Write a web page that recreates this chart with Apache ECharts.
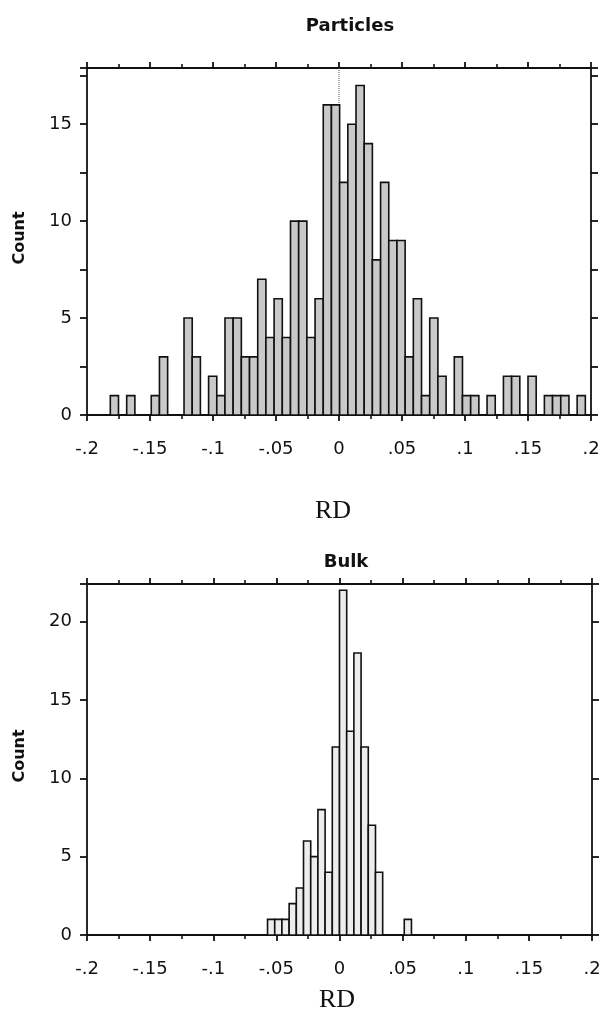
<!DOCTYPE html>
<html>
<head>
<meta charset="utf-8">
<script src="https://cdn.jsdelivr.net/npm/echarts@6/dist/echarts.min.js"></script>
<style>
html,body{margin:0;padding:0;background:#fff;}
#chart{width:604px;height:1021px;}
</style>
</head>
<body>
<div id="chart"></div>
<script>
// ---- Data ----
const chartTitles = ['Particles', 'Bulk'];
const xAxisName = 'RD';
const yAxisName = 'Count';

// Particles histogram: bin start, bin width, counts
const particleBinStart = -0.1815;
const particleBinWidth = 0.0065;
const particleCounts = [1,0,1,0,0,1,3,0,0,5, 3,0,2,1,5,5,3,3,7,4, 6,4,10,10,4,6,16,16,12,15,
                        17,14,8,12,9,9,3,6,1,5, 2,0,3,1,1,0,1,0,2,2, 0,2,0,1,1,1,0,1];

// Bulk histogram
const bulkBinStart = -0.057;
const bulkBinWidth = 0.0057;
const bulkCounts = [1,1,1,2,3,6,5,8,4,12, 22,13,18,12,7,4,0,0,0,1];

function toBins(start, width, counts) {
  return counts.map((c, i) => [start + i * width, start + (i + 1) * width, c]);
}

const chart = echarts.init(document.getElementById('chart'), null, {renderer: 'canvas'});

const tickFont = {fontFamily: 'DejaVu Sans', fontSize: 18, color: '#111'};

function xLabel(v) {
  if (Math.abs(v) < 1e-9) return '0';
  const s = parseFloat(v.toFixed(3)).toString();
  return s.replace('0.', '.');
}
function yLabelEvery(step) {
  return v => (Math.abs(v / step - Math.round(v / step)) < 1e-6) ? String(Math.round(v)) : '';
}

function xAxes(gridIndex) {
  const base = {
    type: 'value', gridIndex, min: -0.2, max: 0.2, interval: 0.05,
    axisLine: {show: true, onZero: false, lineStyle: {color: '#111', width: 1.8}},
    axisTick: {show: true, inside: false, length: 6, lineStyle: {color: '#111', width: 1.8}},
    minorTick: {show: true, splitNumber: 2, length: 4, lineStyle: {color: '#111', width: 1.6}},
    splitLine: {show: false}, minorSplitLine: {show: false}
  };
  return [
    Object.assign({}, base, {position: 'bottom',
      axisLabel: Object.assign({margin: 25, formatter: xLabel}, tickFont)}),
    Object.assign({}, base, {position: 'top', axisLabel: {show: false}})
  ];
}
function yAxes(gridIndex, max, interval, labelStep) {
  const base = {
    type: 'value', gridIndex, min: 0, max, interval,
    axisLine: {show: true, onZero: false, lineStyle: {color: '#111', width: 1.8}},
    axisTick: {show: true, inside: false, length: 7, lineStyle: {color: '#111', width: 1.8}},
    splitLine: {show: false}
  };
  return [
    Object.assign({}, base, {position: 'left',
      axisLabel: Object.assign({margin: 15, formatter: yLabelEvery(labelStep)}, tickFont)}),
    Object.assign({}, base, {position: 'right', axisLabel: {show: false}})
  ];
}

function binRenderer(fill) {
  return function (params, api) {
    const c = api.value(2);
    if (!c) return null;
    const p0 = api.coord([api.value(0), c]);
    const p1 = api.coord([api.value(1), 0]);
    return {
      type: 'rect',
      shape: {x: p0[0], y: p0[1], width: p1[0] - p0[0], height: p1[1] - p0[1]},
      style: {fill: fill, stroke: '#111', lineWidth: 1.6}
    };
  };
}

function label(text, x, y, font, rot) {
  return {type: 'text', x, y, rotation: rot || 0,
    style: {text, x: 0, y: 0, font, fill: '#111', align: 'center', verticalAlign: 'middle'}};
}

const option = {
  animation: false,
  backgroundColor: '#fff',
  grid: [
    {left: 87, right: 13, top: 68, height: 347},
    {left: 87, right: 12, top: 584, height: 351}
  ],
  xAxis: [...xAxes(0), ...xAxes(1)],
  yAxis: [...yAxes(0, 17.9, 2.5, 5), ...yAxes(1, 22.4, 5, 5)],
  series: [
    {
      type: 'line', xAxisIndex: 0, yAxisIndex: 0, z: 1,
      data: [[0, 0], [0, 17.9]], symbol: 'none',
      lineStyle: {color: '#555', width: 1, type: [1, 1]}, silent: true
    },
    {
      type: 'custom', xAxisIndex: 0, yAxisIndex: 0, z: 3,
      renderItem: binRenderer('#c9c9c9'),
      encode: {x: [0, 1], y: 2},
      data: toBins(particleBinStart, particleBinWidth, particleCounts)
    },
    {
      type: 'custom', xAxisIndex: 2, yAxisIndex: 2, z: 3,
      renderItem: binRenderer('#ededed'),
      encode: {x: [0, 1], y: 2},
      data: toBins(bulkBinStart, bulkBinWidth, bulkCounts)
    }
  ],
  graphic: [
    label(chartTitles[0], 350, 26, 'bold 18px "DejaVu Sans"'),
    label(chartTitles[1], 346, 562, 'bold 18px "DejaVu Sans"'),
    label(xAxisName, 333, 511, '26px "Liberation Serif"'),
    label(xAxisName, 337, 1000, '26px "Liberation Serif"'),
    label(yAxisName, 20, 238, 'bold 16px "DejaVu Sans"', Math.PI / 2),
    label(yAxisName, 20, 756, 'bold 16px "DejaVu Sans"', Math.PI / 2)
  ]
};

chart.setOption(option);
</script>
</body>
</html>
